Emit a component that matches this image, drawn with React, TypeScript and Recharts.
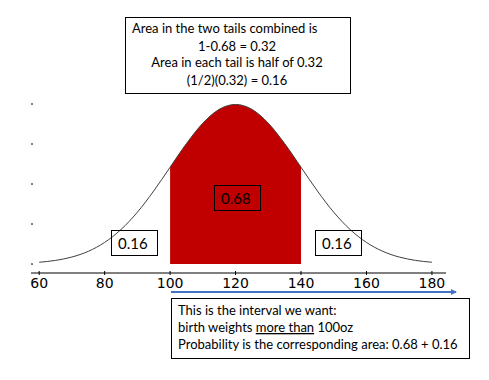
import { ComposedChart, Area, Line, XAxis, YAxis } from 'recharts'

// birth weight (oz) and normal density, mean 120, sd 20
const weights = [60, 65, 70, 75, 80, 85, 90, 95, 100, 105, 110, 115, 120, 125, 130, 135, 140, 145, 150, 155, 160, 165, 170, 175, 180]
const density = [
  0.000222, 0.000455, 0.000876, 0.001587, 0.0027, 0.004314, 0.006476, 0.009132, 0.012099, 0.015057, 0.017603, 0.019333,
  0.019947,
  0.019333, 0.017603, 0.015057, 0.012099, 0.009132, 0.006476, 0.004314, 0.0027, 0.001587, 0.000876, 0.000455, 0.000222,
]
const shadeFrom = 100
const shadeTo = 140
const xTicks = [60, 80, 100, 120, 140, 160, 180]
const yTicks = [0, 0.005, 0.01, 0.015, 0.02]

const data = weights.map((x, i) => ({
  x,
  y: density[i],
  shade: x >= shadeFrom && x <= shadeTo ? density[i] : null,
}))

const boxFont = 'Lato, "Open Sans", sans-serif'

const AxisTick = ({ x, y, payload }: any) => (
  <g>
    <line x1={x} x2={x} y1={y - 2} y2={y + 2} stroke="#000" />
    <text x={x} y={y + 15} textAnchor="middle" fontSize={14} fontFamily="DejaVu Sans" fill="#000">
      {payload.value}
    </text>
  </g>
)

function Notes() {
  return (
    <svg width={489} height={380} style={{ position: 'absolute', left: 0, top: 0, pointerEvents: 'none' }}>
      <defs>
        <marker id="head" markerWidth="6" markerHeight="6" refX="5" refY="3" orient="auto" markerUnits="userSpaceOnUse">
          <path d="M0,0 L6,3 L0,6 z" fill="#4472C4" />
        </marker>
      </defs>

      <g fontFamily={boxFont} fontSize={13} fill="#000">
        <rect x={125.5} y={17.5} width={225} height={76} fill="none" stroke="#000" />
        <text x={132} y={33}>Area in the two tails combined is</text>
        <text x={237} y={51} textAnchor="middle">1-0.68 = 0.32</text>
        <text x={237} y={67} textAnchor="middle">Area in each tail is half of 0.32</text>
        <text x={237} y={85} textAnchor="middle">(1/2)(0.32) = 0.16</text>

        <rect x={111.5} y={230.5} width={46} height={25} fill="none" stroke="#000" />
        <text x={118} y={249} fontSize={15}>0.16</text>
        <rect x={315.5} y={230.5} width={46} height={25} fill="none" stroke="#000" />
        <text x={322} y={249} fontSize={15}>0.16</text>
        <rect x={214.5} y={185.5} width={46} height={25} fill="none" stroke="#000" />
        <text x={221} y={204} fontSize={15}>0.68</text>

        <line x1={171} x2={456} y1={292} y2={292} stroke="#4472C4" strokeWidth={2} markerEnd="url(#head)" />

        <rect x={171.5} y={298.5} width={298} height={60} fill="#fff" stroke="#000" />
        <text x={178} y={315}>This is the interval we want:</text>
        <text x={178} y={332}>
          birth weights <tspan style={{ textDecoration: 'underline' }}>more than</tspan> 100oz
        </text>
        <text x={178} y={349}>Probability is the corresponding area: 0.68 + 0.16</text>
      </g>
    </svg>
  )
}

export default function App() {
  return (
    <div style={{ position: 'absolute', left: 0, top: 0, width: 489, height: 380, background: '#fff' }}>
      <ComposedChart width={489} height={380} data={data} margin={{ top: 104, right: 43, bottom: 77, left: 31 }}>
        <XAxis
          dataKey="x"
          type="number"
          domain={[57.5, 184.3]}
          ticks={xTicks}
          tickLine={false}
          tickSize={0}
          tickMargin={0}
          height={30}
          axisLine={{ stroke: '#000' }}
          tick={<AxisTick />}
        />
        <YAxis
          type="number"
          domain={[-0.00112, 0.02]}
          ticks={yTicks}
          mirror
          axisLine={false}
          tickSize={2}
          tickLine={{ stroke: '#000' }}
          tickFormatter={() => ''}
          allowDataOverflow
        />
        <Area dataKey="shade" type="monotone" stroke="none" fill="#C00000" fillOpacity={1} isAnimationActive={false} />
        <Line dataKey="y" type="monotone" stroke="#404040" strokeWidth={1} dot={false} isAnimationActive={false} />
      </ComposedChart>
      <Notes />
    </div>
  )
}
